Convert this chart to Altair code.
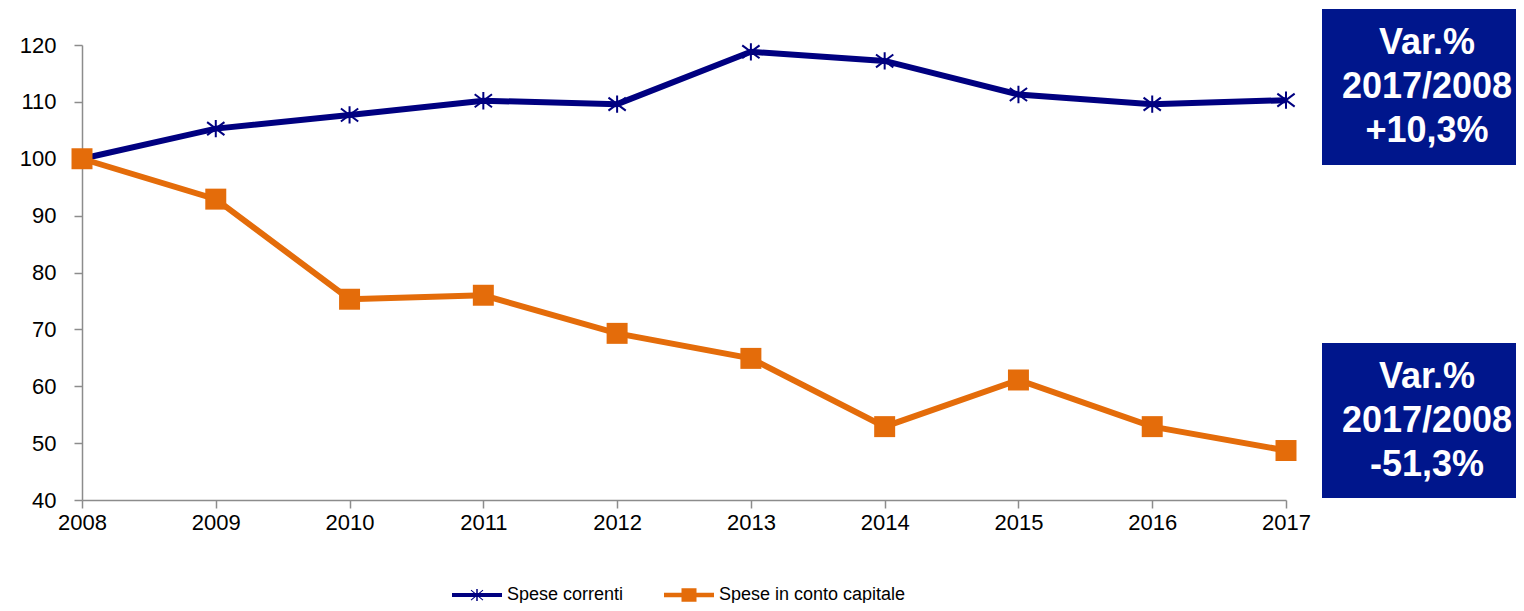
import altair as alt
import pandas as pd

years = [2008, 2009, 2010, 2011, 2012, 2013, 2014, 2015, 2016, 2017]
spese_correnti = [100.0, 105.3, 107.7, 110.2, 109.6, 118.8, 117.2, 111.3, 109.6, 110.3]
spese_capitale = [100.0, 92.9, 75.3, 76.0, 69.3, 64.9, 52.9, 61.1, 52.9, 48.7]
series_names = ["Spese correnti", "Spese in conto capitale"]
y_ticks = [40, 50, 60, 70, 80, 90, 100, 110, 120]
box_lines_1 = ["Var.%", "2017/2008", "+10,3%"]
box_lines_2 = ["Var.%", "2017/2008", "-51,3%"]

NAVY = "#000080"
ORANGE = "#E46C0A"
BOX = "#00168C"
FONT = "Liberation Sans"

df = pd.DataFrame({
    "anno": years * 2,
    "valore": spese_correnti + spese_capitale,
    "serie": [series_names[0]] * len(years) + [series_names[1]] * len(years),
})

ASTER = "M-1,-0.75L1,0.75M-1,0.75L1,-0.75M0,-1L0,1"
LEG_NAVY = ("M-1,-0.08H1V0.08H-1Z"
            "M-0.03,-0.24H0.03V0.24H-0.03Z"
            "M-0.227,-0.215L0.253,0.185L0.227,0.215L-0.253,-0.185Z"
            "M-0.253,0.185L0.227,-0.215L0.253,-0.185L-0.227,0.215Z")
LEG_ORANGE = "M-1,-0.09H1V0.09H-1ZM-0.3,-0.27H0.3V0.27H-0.3Z"

x_enc = alt.X("anno:Q", scale=alt.Scale(domain=[2008, 2017], nice=False, zero=False),
              axis=alt.Axis(values=years, format="d", title=None, labelPadding=4))
y_enc = alt.Y("valore:Q", scale=alt.Scale(domain=[40, 120], nice=False, zero=False),
              axis=alt.Axis(values=y_ticks, title=None, labelPadding=18))

base = alt.Chart(df)
sel_c = alt.datum.serie == series_names[0]
sel_k = alt.datum.serie == series_names[1]

line_c = base.transform_filter(sel_c).mark_line(strokeWidth=6, color=NAVY).encode(x=x_enc, y=y_enc)
line_k = base.transform_filter(sel_k).mark_line(strokeWidth=6, color=ORANGE).encode(x=x_enc, y=y_enc)

pts_c = base.transform_filter(sel_c).mark_point(
    shape=ASTER, filled=False, size=300, strokeWidth=2, color=NAVY, opacity=1
).encode(x=x_enc, y=y_enc)

pts_k = base.transform_filter(sel_k).mark_point(
    shape="square", filled=True, size=440, color=ORANGE, opacity=1
).encode(x=x_enc, y=y_enc)

leg = alt.Legend(title=None, orient="none", direction="horizontal",
                 legendX=370, legendY=525, labelLimit=500)
legend_layer = base.mark_point(filled=True, opacity=1, size=0).encode(
    x=x_enc, y=y_enc,
    color=alt.Color("serie:N", scale=alt.Scale(domain=series_names, range=[NAVY, ORANGE]),
                    legend=leg),
    shape=alt.Shape("serie:N", scale=alt.Scale(domain=series_names, range=[LEG_NAVY, LEG_ORANGE]),
                    legend=leg),
)

one = pd.DataFrame({"k": [0]})
box1 = alt.Chart(one).mark_rect(color=BOX).encode(
    x=alt.value(1240), x2=alt.value(1460), y=alt.value(-36), y2=alt.value(120))
box2 = alt.Chart(one).mark_rect(color=BOX).encode(
    x=alt.value(1240), x2=alt.value(1460), y=alt.value(298), y2=alt.value(453))
txt1 = alt.Chart(one).mark_text(font=FONT, fontSize=36, fontWeight="bold", color="white",
                                align="center", baseline="middle", lineHeight=44).encode(
    x=alt.value(1345), y=alt.value(-2), text=alt.value(box_lines_1))
txt2 = alt.Chart(one).mark_text(font=FONT, fontSize=36, fontWeight="bold", color="white",
                                align="center", baseline="middle", lineHeight=44).encode(
    x=alt.value(1345), y=alt.value(332), text=alt.value(box_lines_2))

chart = alt.layer(line_c, line_k, pts_c, pts_k, legend_layer, box1, box2, txt1, txt2).properties(
    width=1204, height=455,
    background="white",
    autosize=alt.AutoSizeParams(type="none"),
    padding={"left": 74, "top": 37, "right": 230, "bottom": 103},
).configure_view(strokeWidth=0, stroke="transparent").configure_axis(
    grid=False, tickSize=8, labelFontSize=22, labelFont=FONT, labelColor="#000000",
    domainColor="#8C8C8C", tickColor="#8C8C8C", domainWidth=1.5, tickWidth=1.5,
    labelFlush=False,
).configure_legend(
    symbolSize=2500, symbolStrokeWidth=0, labelFontSize=18, labelFont=FONT,
    labelColor="#000000", labelOffset=5, columnPadding=40, padding=0,
)

chart.save("out.html", embed_options={"renderer": "svg", "actions": False})
